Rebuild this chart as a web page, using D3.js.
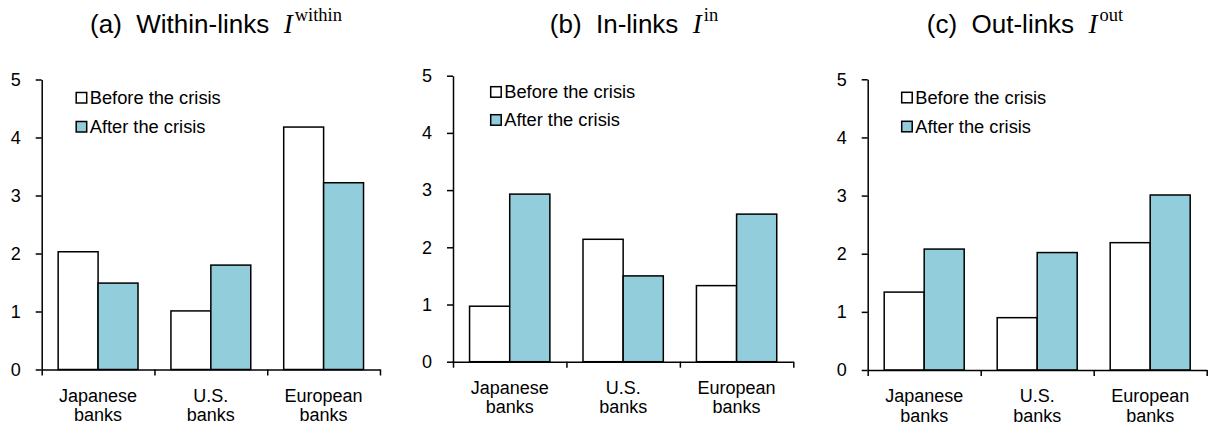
<!DOCTYPE html>
<html>
<head>
<meta charset="utf-8">
<script src="https://cdn.jsdelivr.net/npm/d3@7"></script>
<style>
  html, body { margin: 0; padding: 0; background: #fff; }
  svg { display: block; }
  text { font-family: "Liberation Sans", Arial, sans-serif; fill: #000; }
</style>
</head>
<body>
<svg id="chart" width="1208" height="429"></svg>
<script>
// Bank groups and the two periods compared
const categories = [["Japanese", "banks"], ["U.S.", "banks"], ["European", "banks"]];
const seriesNames = ["Before the crisis", "After the crisis"];
const yTicks = [0, 1, 2, 3, 4, 5];

// Within-links
const withinBefore = [2.03, 1.01, 4.18];
const withinAfter  = [1.49, 1.80, 3.22];
// In-links
const inBefore = [0.97, 2.14, 1.33];
const inAfter  = [2.93, 1.50, 2.58];
// Out-links
const outBefore = [1.34, 0.90, 2.19];
const outAfter  = [2.08, 2.02, 3.01];

const panelTitles = [
  { prefix: "(a)  Within-links", sup: "within" },
  { prefix: "(b)  In-links", sup: "in" },
  { prefix: "(c)  Out-links", sup: "out" }
];

const seriesFill = ["#ffffff", "#92cddc"];

// Plot boxes of the three panels
const panels = [
  { x0: 41.7,  x1: 380,    yBot: 369.5, yTop: 79.5, titleX: 216,  legX: 34.5, legY: 13, legGap: 29,
    before: withinBefore, after: withinAfter, title: panelTitles[0] },
  { x0: 453,   x1: 793.3,  yBot: 361.7, yTop: 75.7, titleX: 634,  legX: 37.7, legY: 11, legGap: 28,
    before: inBefore, after: inAfter, title: panelTitles[1] },
  { x0: 867.7, x1: 1206.7, yBot: 370,   yTop: 79.3, titleX: 1025, legX: 34,   legY: 13, legGap: 29,
    before: outBefore, after: outAfter, title: panelTitles[2] }
];

const svg = d3.select("#chart");

panels.forEach(p => {
  const g = svg.append("g");
  const catKeys = categories.map(c => c.join(" "));

  const x = d3.scaleBand().domain(catKeys).range([p.x0, p.x1])
    .paddingInner(0.292).paddingOuter(0.146);
  const xs = d3.scaleBand().domain(seriesNames).range([0, x.bandwidth()]).padding(0);
  const y = d3.scaleLinear().domain([0, 5]).range([p.yBot, p.yTop]);

  // Bars
  const rows = catKeys.map((k, i) => ({ key: k, values: [p.before[i], p.after[i]] }));
  rows.forEach(r => {
    r.values.forEach((v, si) => {
      g.append("rect")
        .attr("x", x(r.key) + xs(seriesNames[si]))
        .attr("y", y(v))
        .attr("width", xs.bandwidth())
        .attr("height", y(0) - y(v))
        .attr("fill", seriesFill[si])
        .attr("stroke", "#000")
        .attr("stroke-width", 1.5);
    });
  });

  // Y axis
  const yAxis = d3.axisLeft(y).tickValues(yTicks).tickFormat(d3.format("d"))
    .tickSize(6).tickSizeOuter(0).tickPadding(15);
  const ya = g.append("g").attr("transform", `translate(${p.x0},0)`).call(yAxis);
  ya.select(".domain").attr("stroke", "#000").attr("stroke-width", 1.5);
  ya.selectAll(".tick line").attr("stroke", "#000").attr("stroke-width", 1.5);
  ya.selectAll(".tick text").attr("font-size", 18).attr("font-family", "Liberation Sans, Arial, sans-serif");

  // X axis: baseline with tick marks at category boundaries
  const xAxisScale = d3.scaleLinear().domain([0, 3]).range([p.x0, p.x1]);
  const xAxis = d3.axisBottom(xAxisScale).tickValues([0, 1, 2, 3]).tickFormat("")
    .tickSize(6).tickSizeOuter(0);
  const xa = g.append("g").attr("transform", `translate(0,${y(0)})`).call(xAxis);
  xa.select(".domain").attr("stroke", "#000").attr("stroke-width", 1.5);
  xa.selectAll(".tick line").attr("stroke", "#000").attr("stroke-width", 1.5);

  // Category labels, two lines each
  categories.forEach((c, i) => {
    const cx = x(catKeys[i]) + x.bandwidth() / 2;
    c.forEach((line, li) => {
      g.append("text")
        .attr("x", cx)
        .attr("y", y(0) + 32 + li * 19.5)
        .attr("text-anchor", "middle")
        .attr("font-size", 18)
        .text(line);
    });
  });

  // Legend
  seriesNames.forEach((name, si) => {
    const lx = p.x0 + p.legX;
    const ly = p.yTop + p.legY + si * p.legGap;
    g.append("rect")
      .attr("x", lx).attr("y", ly)
      .attr("width", 10.5).attr("height", 10.5)
      .attr("fill", seriesFill[si])
      .attr("stroke", "#000").attr("stroke-width", 1.5);
    g.append("text")
      .attr("x", lx + 13.5)
      .attr("y", ly + 11.5)
      .attr("font-size", 18.3)
      .text(name);
  });

  // Panel title with italic I and superscript
  const t = svg.append("text")
    .attr("x", p.titleX)
    .attr("y", 33)
    .attr("text-anchor", "middle")
    .attr("font-size", 26)
    .style("white-space", "pre");
  t.append("tspan").text(p.title.prefix + "  ");
  t.append("tspan")
    .attr("font-family", "Liberation Serif, Times New Roman, serif")
    .attr("font-style", "italic")
    .attr("font-size", 27)
    .text("I");
  t.append("tspan")
    .attr("font-family", "Liberation Serif, Times New Roman, serif")
    .attr("font-size", 18.5)
    .attr("dx", 2)
    .attr("dy", -12)
    .text(p.title.sup);
});
</script>
</body>
</html>
